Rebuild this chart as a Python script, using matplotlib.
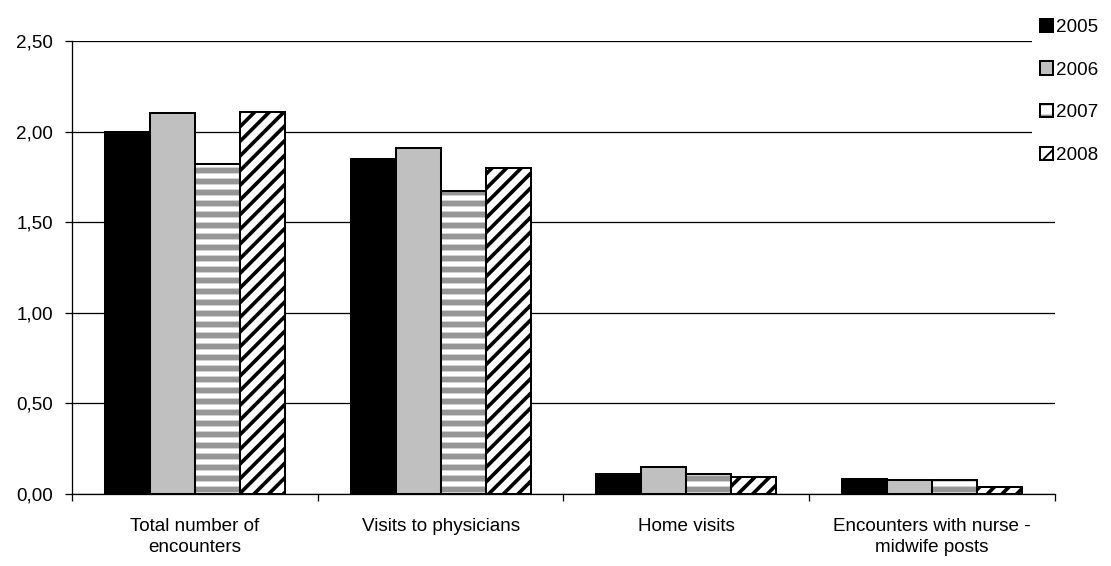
import numpy as np
import matplotlib
matplotlib.use("Agg")
import matplotlib.pyplot as plt
from matplotlib.patches import Patch
from matplotlib.legend_handler import HandlerTuple
from matplotlib.ticker import FuncFormatter, MultipleLocator

categories = ["Total number of\nencounters", "Visits to physicians",
              "Home visits", "Encounters with nurse -\nmidwife posts"]
years = ["2005", "2006", "2007", "2008"]
v2005 = [2.00, 1.85, 0.11, 0.085]
v2006 = [2.10, 1.91, 0.15, 0.08]
v2007 = [1.82, 1.67, 0.11, 0.075]
v2008 = [2.11, 1.80, 0.095, 0.04]

plt.rcParams["font.family"] = ["Liberation Sans", "DejaVu Sans"]
FS = 10.3

DPI = 132
fig = plt.figure(figsize=(1111 / DPI, 566 / DPI), dpi=DPI)
ax = fig.add_axes([0.0648, 0.1272, 0.8848, 0.8004])

# fill colour, hatch, hatch colour, hatch line width per year
styles = [
    dict(face="black", hatch=None, hcol="black", hlw=1.0),
    dict(face="#c0c0c0", hatch=None, hcol="#c0c0c0", hlw=1.0),
    dict(face="white", hatch="--", hcol="#969696", hlw=3.2),
    dict(face="white", hatch="///", hcol="black", hlw=2.0),
]
series = [v2005, v2006, v2007, v2008]

x = np.arange(len(categories))
w = 0.183
handles = []
for i, (vals, st) in enumerate(zip(series, styles)):
    pos = x + (i - 1.5) * w
    # hatch layer first, black outline drawn on top
    with plt.rc_context({"hatch.linewidth": st["hlw"]}):
        ax.bar(pos, vals, w, color=st["face"], edgecolor=st["hcol"],
               hatch=st["hatch"], linewidth=0, zorder=2)
        h1 = Patch(facecolor=st["face"], edgecolor=st["hcol"], hatch=st["hatch"], linewidth=0)
    ax.bar(pos, vals, w, fill=False, edgecolor="black", linewidth=1.1, zorder=3)
    h2 = Patch(fill=False, edgecolor="black", linewidth=1.1)
    handles.append((h1, h2))

ax.set_xlim(-0.5, 3.5)
ax.set_ylim(0, 2.5)
ax.yaxis.set_major_locator(MultipleLocator(0.5))
ax.yaxis.set_major_formatter(FuncFormatter(lambda v, p: f"{v:.2f}".replace(".", ",")))
ax.grid(axis="y", color="black", linewidth=0.7, zorder=0)
ax.set_axisbelow(True)

ax.set_xticks(x)
ax.set_xticklabels(categories, fontsize=FS, linespacing=1.35)
ax.set_xticks(np.arange(-0.5, 4.0, 1.0), minor=True)
ax.tick_params(axis="x", which="major", length=0, pad=13)
ax.tick_params(axis="x", which="minor", length=4, width=0.7, direction="out")
ax.tick_params(axis="y", length=3.8, width=0.7, labelsize=FS, direction="out", pad=6.5)

for s in ["top", "right"]:
    ax.spines[s].set_visible(False)
for s in ["left", "bottom"]:
    ax.spines[s].set_linewidth(0.7)

leg = ax.legend(handles, years, handler_map={tuple: HandlerTuple(ndivide=1, pad=0)},
                loc="upper left", bbox_to_anchor=(0.977, 1.066), frameon=True,
                fancybox=False, facecolor="white", edgecolor="none", framealpha=1,
                handlelength=0.7, handleheight=0.7, handletextpad=0.15,
                labelspacing=1.35, fontsize=FS, borderaxespad=0)
leg.set_zorder(5)

fig.savefig("out.png", dpi=DPI)
